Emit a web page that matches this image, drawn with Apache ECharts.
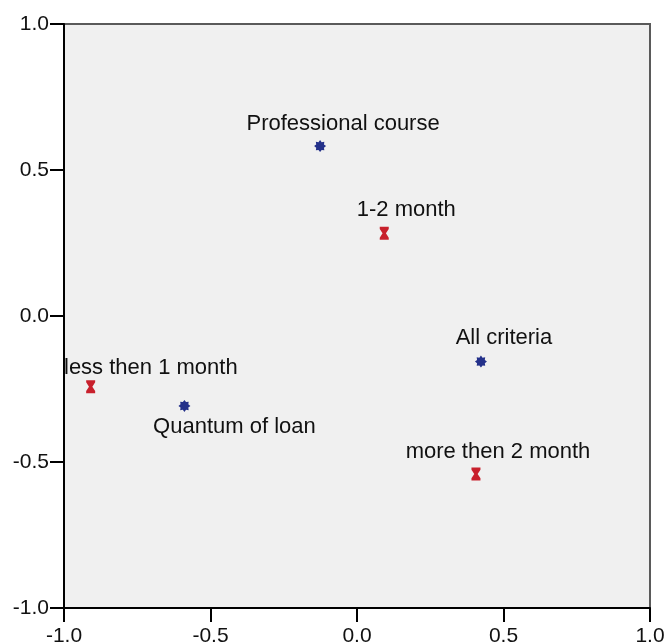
<!DOCTYPE html>
<html>
<head>
<meta charset="utf-8">
<script src="https://cdn.jsdelivr.net/npm/echarts@6/dist/echarts.min.js"></script>
<style>
  html, body { margin: 0; padding: 0; background: #ffffff; }
  #chart { width: 664px; height: 644px; }
</style>
</head>
<body>
<div id="chart"></div>
<script>
// Criteria points (blue gear markers)
const criteriaNames = ['Professional course', 'All criteria', 'Quantum of loan'];
const criteriaX = [-0.126, 0.423, -0.589];
const criteriaY = [0.582, -0.156, -0.308];

// Duration points (red hourglass markers)
const durationNames = ['1-2 month', 'more then 2 month', 'less then 1 month'];
const durationX = [0.093, 0.406, -0.909];
const durationY = [0.283, -0.541, -0.242];

// Axis ticks
const tickValues = [-1.0, -0.5, 0.0, 0.5, 1.0];

// Label placement relative to each marker centre: [dx, dy]
const criteriaLabelShift = [[23, -22], [23, -24], [50, 21]];
const durationLabelShift = [[22, -23], [22, -22], [22, -19]];

const GRID = { left: 64, right: 14, top: 24, bottom: 36 };
const FONT = "'Liberation Sans', Arial, sans-serif";
const TICK_LEN = 14;

// Eight-toothed gear symbol
function gearPath() {
  const pts = [];
  const n = 8, ro = 10, ri = 7;
  for (let i = 0; i < n * 2; i++) {
    const a = (Math.PI * i) / n - Math.PI / 2;
    const r = i % 2 === 0 ? ro : ri;
    pts.push((10 + r * Math.cos(a)).toFixed(2) + ',' + (10 + r * Math.sin(a)).toFixed(2));
  }
  return 'path://M' + pts.join(' L') + ' Z';
}
const hourglass = 'path://M0,0 L8,0 L8,2 L5.5,6 L8,10 L8,12 L0,12 L0,10 L2.5,6 L0,2 Z';

// Place each label beside its marker, keeping it inside the plot's left edge
function makeLayout(shifts) {
  return function (p) {
    const s = shifts[p.dataIndex];
    const cx = p.rect.x + p.rect.width / 2 + s[0];
    const cy = p.rect.y + p.rect.height / 2 + s[1];
    let left = cx - p.labelRect.width / 2;
    if (left < GRID.left) left = GRID.left;
    return { x: left, y: cy, align: 'left', verticalAlign: 'middle' };
  };
}

function pairs(xs, ys, names) {
  return xs.map((x, i) => ({ name: names[i], value: [x, ys[i]] }));
}

const labelStyle = {
  show: true,
  formatter: '{b}',
  color: '#111',
  fontFamily: FONT,
  fontSize: 22
};

const axisCommon = {
  type: 'value',
  min: -1,
  max: 1,
  interval: 0.5,
  splitLine: { show: false },
  axisLine: { show: true, onZero: false, lineStyle: { color: '#000', width: 2 } },
  axisTick: { show: true, inside: false, length: TICK_LEN, lineStyle: { color: '#000', width: 2 } },
  axisLabel: {
    color: '#111',
    fontFamily: FONT,
    fontSize: 21,
    formatter: v => {
      const t = tickValues.find(k => Math.abs(k - v) < 1e-9);
      return t === undefined ? '' : t.toFixed(1);
    }
  }
};

const chart = echarts.init(document.getElementById('chart'), null, { renderer: 'canvas' });
chart.setOption({
  animation: false,
  backgroundColor: '#ffffff',
  grid: {
    left: GRID.left, right: GRID.right, top: GRID.top, bottom: GRID.bottom,
    outerBoundsMode: 'none',
    containLabel: false,
    show: true,
    backgroundColor: '#f0f0f0',
    borderColor: '#5a5a5a',
    borderWidth: 2
  },
  xAxis: Object.assign({}, axisCommon, {
    axisLabel: Object.assign({}, axisCommon.axisLabel, { margin: TICK_LEN + 4 })
  }),
  yAxis: Object.assign({}, axisCommon, {
    axisLabel: Object.assign({}, axisCommon.axisLabel, { margin: TICK_LEN + 1 })
  }),
  series: [
    {
      type: 'scatter',
      name: 'criteria',
      data: pairs(criteriaX, criteriaY, criteriaNames),
      symbol: gearPath(),
      symbolSize: 12,
      clip: false,
      itemStyle: { color: '#24318a', opacity: 1 },
      label: labelStyle,
      labelLayout: makeLayout(criteriaLabelShift),
      z: 5
    },
    {
      type: 'scatter',
      name: 'duration',
      data: pairs(durationX, durationY, durationNames),
      symbol: hourglass,
      symbolSize: [9, 13],
      clip: false,
      itemStyle: { color: '#c8202c', opacity: 1 },
      label: labelStyle,
      labelLayout: makeLayout(durationLabelShift),
      z: 5
    }
  ]
});
</script>
</body>
</html>
